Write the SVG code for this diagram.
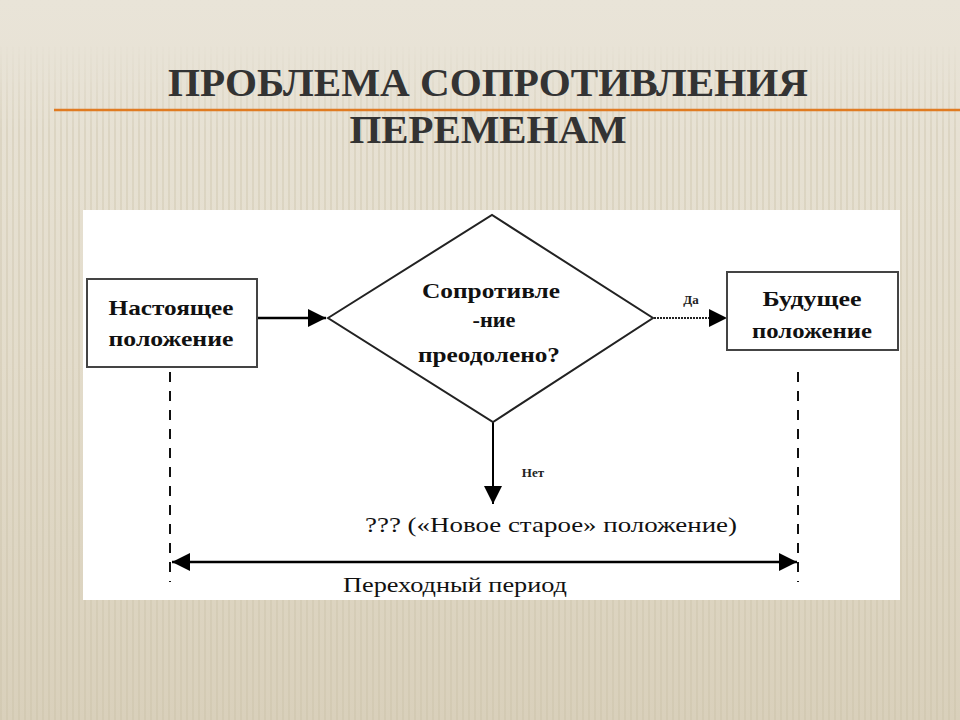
<svg xmlns="http://www.w3.org/2000/svg" width="960" height="720" viewBox="0 0 960 720">
<defs>
<linearGradient id="bg" x1="0" y1="0" x2="0" y2="1">
<stop offset="0" stop-color="#e9e4d8"/>
<stop offset="0.5" stop-color="#e3dccb"/>
<stop offset="1" stop-color="#d9d0bb"/>
</linearGradient>
<pattern id="stripes" width="6" height="720" patternUnits="userSpaceOnUse">
<rect x="0" y="0" width="2" height="720" fill="#c9bfa6" opacity="0.35"/>
</pattern>
<linearGradient id="fade" x1="0" y1="0" x2="0" y2="1">
<stop offset="0" stop-color="#fff" stop-opacity="0"/>
<stop offset="0.06" stop-color="#fff" stop-opacity="0"/>
<stop offset="0.18" stop-color="#fff" stop-opacity="1"/>
<stop offset="1" stop-color="#fff" stop-opacity="1"/>
</linearGradient>
<mask id="m"><rect width="960" height="720" fill="url(#fade)"/></mask>
<marker id="ah" viewBox="0 0 10 10" refX="10" refY="5" markerWidth="18" markerHeight="18" markerUnits="userSpaceOnUse" orient="auto-start-reverse">
<path d="M0,0 L10,5 L0,10 Z" fill="#000"/>
</marker>
<style>
.t{font-family:"Liberation Serif","Times New Roman",serif;font-weight:bold;fill:#111;font-size:22px;text-anchor:middle}
.s{font-family:"Liberation Serif","Times New Roman",serif;font-weight:bold;fill:#222;font-size:13px;text-anchor:middle}
.title{font-family:"Liberation Serif","Times New Roman",serif;font-weight:bold;fill:#333;font-size:41px;text-anchor:middle}
.box{fill:#fff;stroke:#444;stroke-width:2}
.ln{stroke:#000;stroke-width:2.5;fill:none}
.dash{stroke:#111;stroke-width:2;stroke-dasharray:10 9;fill:none}
</style>
</defs>
<rect width="960" height="720" fill="url(#bg)"/>
<rect width="960" height="720" fill="url(#stripes)" mask="url(#m)"/>
<g id="title">
<text class="title" x="488" y="96" textLength="640" lengthAdjust="spacingAndGlyphs">ПРОБЛЕМА СОПРОТИВЛЕНИЯ</text>
<text class="title" x="488" y="143" textLength="277" lengthAdjust="spacingAndGlyphs">ПЕРЕМЕНАМ</text>
<line x1="54" y1="110" x2="960" y2="110" stroke="#e07b22" stroke-width="2.5"/>
</g>
<rect id="panel" x="83" y="210" width="817" height="390" fill="#fff"/>
<g id="connectors">
<line class="ln" x1="257" y1="318" x2="326" y2="318" marker-end="url(#ah)"/>
<line x1="654" y1="318" x2="727" y2="318" stroke="#222" stroke-width="2" stroke-dasharray="2 1" marker-end="url(#ah)"/>
<line x1="493" y1="422" x2="493" y2="504" stroke="#000" stroke-width="2" marker-end="url(#ah)"/>
<line class="dash" x1="170" y1="372" x2="170" y2="582"/>
<line class="dash" x1="798" y1="372" x2="798" y2="582"/>
<line x1="172" y1="562" x2="797" y2="562" stroke="#000" stroke-width="2.5" marker-start="url(#ah)" marker-end="url(#ah)"/>
<text class="s" x="691" y="304">Да</text>
<text class="s" x="533" y="477">Нет</text>
</g>
<g id="current">
<rect class="box" x="87" y="279" width="170" height="88"/>
<text class="t" x="171" y="315" textLength="125" lengthAdjust="spacingAndGlyphs">Настоящее</text>
<text class="t" x="171" y="346" textLength="125" lengthAdjust="spacingAndGlyphs">положение</text>
</g>
<g id="decision">
<polygon points="328,318 492,215 653,318 493,422" fill="#fff" stroke="#222" stroke-width="2"/>
<text class="t" x="491" y="298" textLength="138" lengthAdjust="spacingAndGlyphs">Сопротивле</text>
<text class="t" x="494" y="327" textLength="43" lengthAdjust="spacingAndGlyphs">-ние</text>
<text class="t" x="489" y="362" textLength="142" lengthAdjust="spacingAndGlyphs">преодолено?</text>
</g>
<g id="future">
<rect class="box" x="727" y="272" width="171" height="78"/>
<text class="t" x="812" y="306" textLength="99" lengthAdjust="spacingAndGlyphs">Будущее</text>
<text class="t" x="812" y="338" textLength="120" lengthAdjust="spacingAndGlyphs">положение</text>
</g>
<g id="newold">
<text class="t" x="551" y="532" textLength="372" lengthAdjust="spacingAndGlyphs" style="font-weight:normal">??? («Новое старое» положение)</text>
</g>
<g id="period">
<text class="t" x="455" y="592" textLength="224" lengthAdjust="spacingAndGlyphs" style="font-weight:normal">Переходный период</text>
</g>
</svg>
